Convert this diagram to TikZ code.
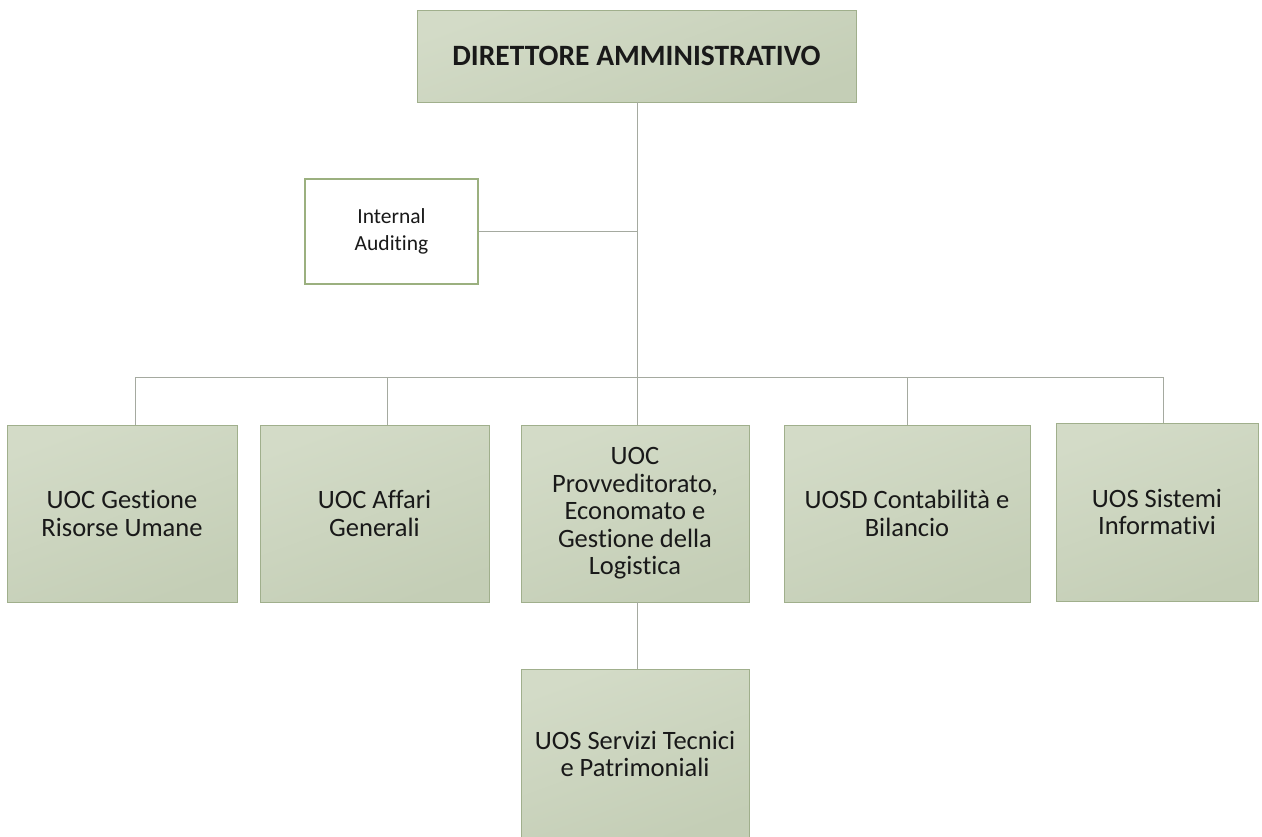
\documentclass[tikz,border=0pt]{standalone}
\usepackage{fontspec}
\setmainfont{Carlito}[Ligatures=NoCommon]
\definecolor{boxfill}{RGB}{211,219,199}
\definecolor{boxfilldark}{RGB}{196,206,182}
\definecolor{boxborder}{RGB}{160,175,140}
\definecolor{audborder}{RGB}{155,176,127}
\definecolor{linecol}{RGB}{165,170,160}
\definecolor{txt}{RGB}{25,25,25}
\begin{document}
\begin{tikzpicture}[x=1pt,y=-1pt,
  unit/.style={draw=boxborder, line width=0.8pt, top color=boxfill, bottom color=boxfilldark, shading angle=20,
    rectangle, inner sep=0pt, align=center, text=txt, font=\fontsize{26.5}{27.5}\selectfont},
  aud/.style={draw=audborder, line width=1.8pt, fill=white, rectangle, inner sep=0pt, align=center, text=txt,
    font=\fontsize{21.5}{27}\selectfont},
  conn/.style={draw=linecol, line width=0.9pt}]
\useasboundingbox (0,0) rectangle (1262,836);
\node[unit, minimum width=439pt, minimum height=92pt, font=\bfseries\fontsize{29.5}{30}\selectfont] (dir) at (636.5,56) {DIRETTORE AMMINISTRATIVO};
\node[aud, minimum width=173pt, minimum height=105pt] (ia) at (391.5,231.5) {Internal\\Auditing};
\node[unit, minimum width=230pt, minimum height=177pt] (u1) at (122,513.5) {UOC Gestione\\Risorse Umane};
\node[unit, minimum width=229pt, minimum height=177pt] (u2) at (374.5,513.5) {UOC Affari\\Generali};
\node[unit, minimum width=228pt, minimum height=177pt] (u3) at (635,513.5) {UOC\\Provveditorato,\\Economato e\\Gestione della\\Logistica};
\node[unit, minimum width=246pt, minimum height=177pt] (u4) at (907,513.5) {UOSD Contabilità e\\Bilancio};
\node[unit, minimum width=202pt, minimum height=178pt] (u5) at (1157,512) {UOS Sistemi\\Informativi};
\node[unit, minimum width=228pt, minimum height=170pt] (u6) at (635,754) {UOS Servizi Tecnici\\e Patrimoniali};
\coordinate (bus) at (637,377);
\coordinate (busL) at (135,377);
\coordinate (busR) at (1163,377);
\draw[conn] (dir.south -| bus) -- (bus);
\draw[conn] (ia.east) -- (ia.east -| bus);
\draw[conn] (busL) -- (busR);
\draw[conn] (busL) -- (busL |- u1.north);
\draw[conn] (387,377) -- (387,425);
\draw[conn] (bus) -- (bus |- u3.north);
\draw[conn] (907,377) -- (907,425);
\draw[conn] (busR) -- (busR |- u5.north);
\draw[conn] (u3.south -| bus) -- (bus |- u6.north);
\end{tikzpicture}
\end{document}
